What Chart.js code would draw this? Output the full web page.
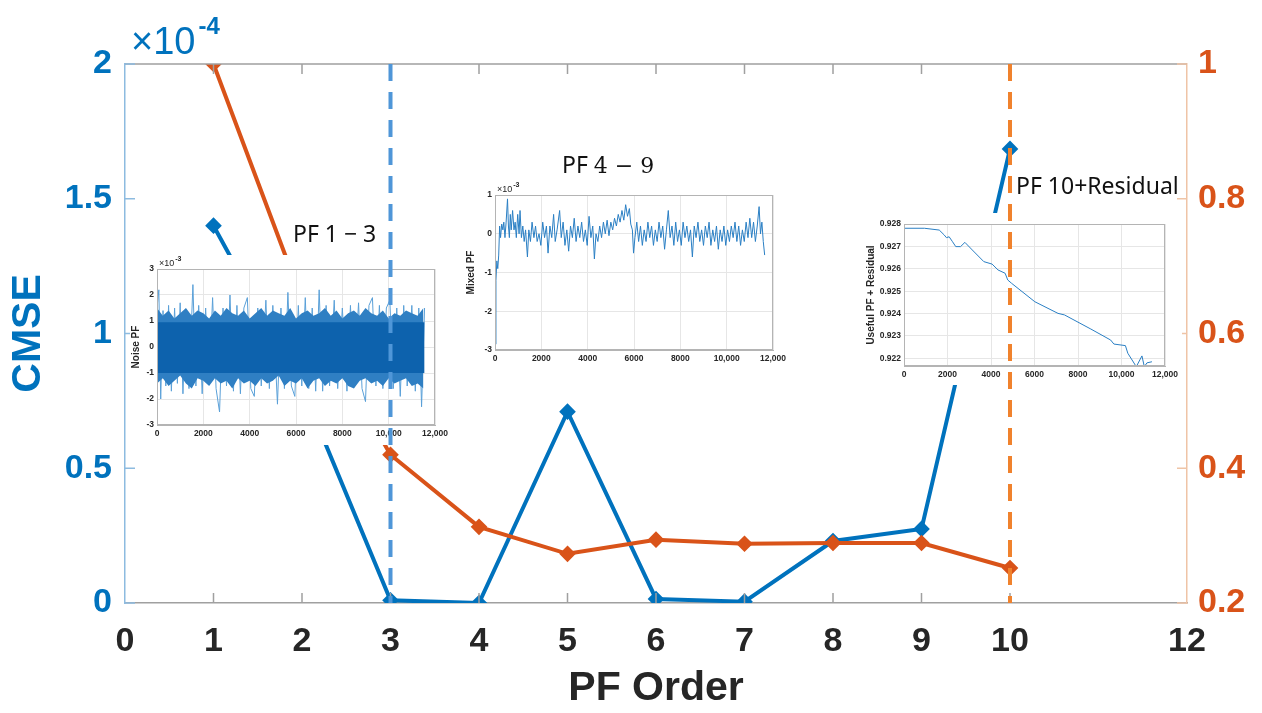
<!DOCTYPE html>
<html>
<head>
<meta charset="utf-8">
<title>CMSE vs PF order</title>
<script src="https://cdn.jsdelivr.net/npm/chart.js@4.4.1/dist/chart.umd.min.js"></script>
<style>
  html, body { margin: 0; padding: 0; background: #fff; }
  #wrap { position: relative; width: 1262px; height: 713px; overflow: hidden; }
  canvas.layer { position: absolute; left: 0; top: 0; }
  #marks { pointer-events: none; }
  .inset { position: absolute; background: #fff; }
  .inset canvas { display: block; }
  .lbl { position: absolute; font-family: 'Noto Sans', sans-serif; font-size: 23px; line-height: 23px; color: #111; white-space: nowrap; }
  .lbl .num { font-family: 'DejaVu Serif', 'Liberation Serif', serif; font-size: 22px; }
</style>
</head>
<body>
<div id="wrap">
  <canvas id="main" class="layer" width="1262" height="713"></canvas>
  <div class="inset" style="left:130px;top:255px;width:322px;height:190px"><canvas id="noise" width="322" height="190"></canvas></div>
  <div class="inset" style="left:465px;top:175px;width:325px;height:195px"><canvas id="mixed" width="325" height="195"></canvas></div>
  <div class="inset" style="left:865px;top:213px;width:317px;height:172px"><canvas id="useful" width="317" height="172"></canvas></div>
  <canvas id="marks" class="layer" width="1262" height="713"></canvas>
  <div class="lbl" style="left:293px;top:222px">PF 1 − 3</div>
  <div class="lbl" style="left:562px;top:153px">PF <span class="num">4 − 9</span></div>
  <div class="lbl" style="left:1016px;top:174px">PF 10+Residual</div>
</div>
<script>
// main chart data
const orders = [1, 2, 3, 4, 5, 6, 7, 8, 9, 10];
const cmse = [1.40, 0.80, 0.01, 0.0, 0.71, 0.015, 0.005, 0.23, 0.275, 1.685]; // x1e-4
const rightSeries = [1.0, 0.65, 0.42, 0.313, 0.273, 0.294, 0.288, 0.289, 0.289, 0.252];
const xTicks = [0, 1, 2, 3, 4, 5, 6, 7, 8, 9, 10, 12];
const cmseTicks = [0, 0.5, 1, 1.5, 2];
const rightTicks = [0.2, 0.4, 0.6, 0.8, 1];
const splitOrders = [3, 10];
const splitColors = ['#4f96d8', '#f0822d'];

// inset data (x = sample index, y in the inset's units)
const sampleTicks = [0, 2000, 4000, 6000, 8000, 10000, 12000];
const noiseBandX = [0, 250, 500, 750, 1000, 1250, 1500, 1750, 2000, 2250, 2500, 2750, 3000, 3250, 3500, 3750,
  4000, 4250, 4500, 4750, 5000, 5250, 5500, 5750, 6000, 6250, 6500, 6750, 7000, 7250, 7500, 7750,
  8000, 8250, 8500, 8750, 9000, 9250, 9500, 9750, 10000, 10250, 10500, 10750, 11000, 11250, 11500];
const noiseBandUp = [1.5, 1.2, 1.4, 1.1, 1.3, 1.5, 1.2, 1.4, 1.3, 1.1, 1.4, 1.2, 1.5, 1.3, 1.2, 1.4,
  1.1, 1.3, 1.5, 1.2, 1.4, 1.3, 1.2, 1.5, 1.1, 1.3, 1.4, 1.2, 1.3, 1.5, 1.2, 1.4,
  1.1, 1.3, 1.4, 1.2, 1.5, 1.3, 1.2, 1.4, 1.1, 1.3, 1.2, 1.4, 1.3, 1.2, 1.5];
const noiseBandLow = [-1.4, -1.2, -1.5, -1.3, -1.1, -1.4, -1.6, -1.2, -1.3, -1.5, -1.2, -1.4, -1.3, -1.6, -1.2, -1.4,
  -1.3, -1.5, -1.2, -1.4, -1.3, -1.1, -1.5, -1.3, -1.4, -1.2, -1.6, -1.3, -1.2, -1.5, -1.3, -1.4,
  -1.2, -1.5, -1.6, -1.3, -1.2, -1.4, -1.3, -1.5, -1.2, -1.4, -1.3, -1.2, -1.5, -1.4, -1.6];
const noiseCoreX = [0, 11550];
const noiseCoreUp = [0.95, 0.95];
const noiseCoreLow = [-1.0, -1.0];
const noiseSpikeX = [0, 80, 160, 260, 380, 500, 620, 760, 880, 1000, 1120, 1250, 1380, 1550, 1680, 1800, 1950, 2100, 2250, 2400,
  2550, 2700, 2850, 3000, 3150, 3300, 3450, 3600, 3750, 3900, 4050, 4200, 4350, 4500, 4700, 4850, 5000, 5200, 5350, 5500,
  5650, 5800, 5950, 6100, 6250, 6400, 6550, 6700, 6850, 7000, 7150, 7300, 7450, 7650, 7800, 8000, 8200, 8350, 8500, 8700,
  8850, 9000, 9150, 9300, 9450, 9600, 9750, 9900, 10050, 10200, 10350, 10500, 10650, 10800, 11000, 11150, 11300, 11420, 11550];
const noiseSpikeY = [1.5, 2.2, -2.0, 1.4, -1.5, 1.6, -1.7, 1.5, -1.4, 1.7, -1.8, 1.4, -1.6, 2.4, -1.5, 1.6, -1.8, 1.5, -1.4, 1.9,
  -1.6, -2.5, 1.5, -1.5, 2.0, -1.7, 1.6, -1.8, 1.5, 1.9, -1.6, -1.9, 1.5, -1.5, 1.8, -1.6, 1.6, -2.2, 1.5, -1.6,
  2.1, -1.5, -1.9, 1.6, -1.5, 1.9, -1.6, 1.5, -1.7, 2.2, -1.7, 1.6, -1.5, 1.8, -1.6, 1.5, -1.7, 1.6, -1.5, 1.7,
  -1.6, -2.1, 1.6, 1.9, -1.5, 1.6, -1.6, 1.5, 1.8, -1.6, 1.5, -1.9, 1.6, -1.5, 1.6, -1.7, 1.5, -2.3, 1.5];
const mixedX = [0, 40, 80, 120, 160, 200, 240, 290, 340, 380, 430, 480, 540, 580, 620, 660, 700, 760, 820, 870,
  920, 980, 1040, 1080, 1140, 1200, 1260, 1320, 1400, 1460, 1530, 1600, 1680, 1750, 1820, 1900, 1980, 2060, 2140, 2220,
  2290, 2370, 2450, 2530, 2600, 2680, 2790, 2860, 2940, 3020, 3100, 3180, 3260, 3340, 3420, 3500, 3580, 3660, 3740, 3820,
  3900, 3980, 4060, 4140, 4220, 4290, 4360, 4440, 4520, 4600, 4680, 4760, 4840, 4920, 5000, 5080, 5160, 5240, 5320, 5400,
  5480, 5560, 5640, 5720, 5800, 5860, 5930, 5980, 6040, 6120, 6200, 6280, 6360, 6440, 6520, 6600, 6680, 6760, 6840, 6920,
  7000, 7080, 7160, 7240, 7320, 7400, 7480, 7560, 7640, 7720, 7800, 7880, 7960, 8040, 8120, 8200, 8280, 8360, 8440, 8520,
  8600, 8680, 8760, 8840, 8920, 9000, 9080, 9160, 9240, 9320, 9400, 9480, 9560, 9640, 9720, 9800, 9880, 9960, 10040, 10120,
  10200, 10280, 10360, 10440, 10520, 10600, 10680, 10760, 10840, 10920, 11000, 11080, 11160, 11240, 11320, 11400, 11460, 11520, 11580, 11640];
const mixedY = [-2.85, -1.2, -0.7, -0.9, -0.55, 0.2, -0.1, 0.25, 0.1, 0.3, -0.1, 0.3, 0.9, 0.2, -0.1, 0.5, 0.1, 0.6, 0.1, 0.3,
  -0.1, 0.5, 0.0, 0.6, -0.1, 0.2, -0.2, 0.1, -0.6, 0.1, -0.2, 0.3, -0.1, 0.2, -0.2, 0.0, -0.3, 0.3, -0.1, 0.2,
  -0.5, 0.2, -0.1, 0.5, -0.2, 0.1, 0.6, -0.1, 0.3, -0.3, 0.1, -0.45, 0.2, -0.1, 0.4, -0.2, 0.2, -0.1, 0.3, -0.2,
  0.1, -0.3, 0.45, -0.1, 0.2, -0.65, 0.0, -0.2, 0.2, -0.1, 0.3, 0.0, 0.35, -0.05, 0.3, 0.1, 0.4, 0.2, 0.5, 0.3,
  0.6, 0.35, 0.75, 0.45, 0.65, 0.25, 0.1, -0.5, -0.1, 0.3, -0.2, 0.2, -0.3, 0.1, -0.2, 0.3, -0.1, 0.2, -0.3, 0.1,
  -0.2, 0.3, -0.1, 0.2, -0.4, 0.1, 0.6, -0.1, 0.2, -0.3, 0.3, -0.2, 0.1, -0.3, 0.3, -0.1, 0.2, -0.2, 0.1, -0.6,
  0.2, -0.1, 0.3, -0.2, 0.1, -0.3, 0.2, -0.1, 0.3, -0.3, 0.1, -0.2, 0.2, -0.4, 0.1, -0.2, 0.2, -0.3, 0.1, -0.2,
  0.2, -0.1, 0.3, -0.2, 0.2, -0.3, 0.1, -0.2, 0.3, -0.1, 0.4, -0.1, 0.3, -0.2, 0.2, 0.7, 0.0, 0.3, -0.2, -0.55];
const usefulX = [0, 940, 1620, 1850, 1950, 2075, 2230, 2380, 2600, 2800, 3140, 3670, 4050, 4320, 4650, 4770, 4950,
  6015, 7080, 7380, 8590, 9500, 9650, 10180, 10290, 10680, 10940, 11050, 11170, 11400];
const usefulY = [0.92781, 0.92781, 0.92773, 0.92751, 0.92739, 0.92743, 0.92721, 0.92699, 0.92699, 0.92718, 0.92684,
  0.92632, 0.92621, 0.92595, 0.9258, 0.9255, 0.92535, 0.92453, 0.92401, 0.92394, 0.92331, 0.92282, 0.92264,
  0.92257, 0.92223, 0.92163, 0.92211, 0.92163, 0.9218, 0.92185];

const FONT = "'Liberation Sans', Arial, sans-serif";
const BLUE = '#0072BD';
const ORANGE = '#D95319';

const pts = (xs, ys) => xs.map((x, i) => ({ x: x, y: ys[i] }));
const setTicks = list => s => { s.ticks = list.map(v => ({ value: v })); };
const fmtSample = v => v >= 10000 ? Math.floor(v / 1000) + ',' + String(v % 1000).padStart(3, '0') : String(v);

function mainScales(show) {
  const c = col => show ? col : 'transparent';
  const big = { family: FONT, size: 34, weight: 'bold' };
  return {
    x: {
      type: 'linear', min: 0, max: 12,
      afterBuildTicks: setTicks(xTicks),
      afterFit: s => { s.height = 110; },
      grid: { drawOnChartArea: false, drawTicks: false },
      border: { color: c('#a0a0a0'), width: 1.5 },
      ticks: { color: c('#262626'), font: big, padding: 18, maxRotation: 0, autoSkip: false, callback: v => String(v) },
      title: { display: true, text: 'PF Order', color: c('#262626'), font: { family: FONT, size: 41, weight: 'bold' }, padding: 0 }
    },
    y: {
      position: 'left', min: 0, max: 2,
      afterBuildTicks: setTicks(cmseTicks),
      afterFit: s => { s.width = 125; },
      grid: { drawOnChartArea: false, drawTicks: false },
      border: { color: c('#8dbbe0'), width: 1.5 },
      ticks: { color: c(BLUE), font: big, padding: 13, callback: v => String(v) },
      title: { display: true, text: 'CMSE', color: c(BLUE), font: { family: FONT, size: 41, weight: 'bold' }, padding: 4 }
    },
    y2: {
      position: 'right', min: 0.2, max: 1,
      afterBuildTicks: setTicks(rightTicks),
      afterFit: s => { s.width = 75; },
      grid: { drawOnChartArea: false, drawTicks: false },
      border: { color: c('#efc4a6'), width: 1.5 },
      ticks: { color: c(ORANGE), font: big, padding: 11, callback: v => String(v) }
    }
  };
}

// MATLAB-style box, inward ticks and exponent label
const matlabFrame = {
  id: 'matlabFrame',
  afterDraw(chart) {
    const { ctx, chartArea: a, scales } = chart;
    ctx.save();
    ctx.lineWidth = 1.5;
    ctx.strokeStyle = '#a0a0a0';
    ctx.beginPath();
    ctx.moveTo(a.left, a.top); ctx.lineTo(a.right, a.top);
    scales.x.ticks.forEach(t => {
      const px = scales.x.getPixelForValue(t.value);
      if (px <= a.left + 1 || px >= a.right - 1) return;
      ctx.moveTo(px, a.bottom); ctx.lineTo(px, a.bottom - 10);
      ctx.moveTo(px, a.top); ctx.lineTo(px, a.top + 10);
    });
    ctx.stroke();
    ctx.strokeStyle = '#8dbbe0';
    ctx.beginPath();
    scales.y.ticks.forEach(t => {
      const py = scales.y.getPixelForValue(t.value);
      ctx.moveTo(a.left, py); ctx.lineTo(a.left + 10, py);
    });
    ctx.stroke();
    ctx.strokeStyle = '#efc4a6';
    ctx.beginPath();
    scales.y2.ticks.forEach(t => {
      const py = scales.y2.getPixelForValue(t.value);
      ctx.moveTo(a.right, py); ctx.lineTo(a.right - 10, py);
    });
    ctx.stroke();
    ctx.fillStyle = BLUE;
    ctx.textBaseline = 'alphabetic';
    ctx.font = '38px ' + FONT;
    ctx.fillText('×10', a.left + 6, a.top - 10);
    const w = ctx.measureText('×10').width;
    ctx.font = 'bold 24px ' + FONT;
    ctx.fillText('-4', a.left + 9 + w, a.top - 30);
    ctx.restore();
  }
};

new Chart(document.getElementById('main'), {
  type: 'line',
  data: {
    datasets: [
      {
        label: 'PF energy ratio', data: pts(orders, rightSeries), yAxisID: 'y2',
        borderColor: ORANGE, backgroundColor: ORANGE, borderWidth: 4,
        pointStyle: 'rectRot', pointRadius: 5.5, tension: 0, order: 1
      },
      {
        label: 'CMSE', data: pts(orders, cmse), yAxisID: 'y',
        borderColor: BLUE, backgroundColor: BLUE, borderWidth: 4,
        pointStyle: 'rectRot', pointRadius: 5.5, tension: 0, order: 2
      }
    ]
  },
  options: {
    responsive: false, animation: false,
    layout: { padding: { top: 64, left: 0, right: 0, bottom: 0 } },
    plugins: { legend: { display: false }, tooltip: { enabled: false } },
    scales: mainScales(true)
  },
  plugins: [matlabFrame]
});

// dashed split lines, drawn on top of the insets with the same axes
new Chart(document.getElementById('marks'), {
  type: 'line',
  data: {
    datasets: splitOrders.map((o, i) => ({
      data: [{ x: o, y: 2 }, { x: o, y: 0 }], yAxisID: 'y',
      borderColor: splitColors[i], borderWidth: 4, borderDash: [17, 11],
      pointRadius: 0, tension: 0
    }))
  },
  options: {
    responsive: false, animation: false, events: [],
    layout: { padding: { top: 64, left: 0, right: 0, bottom: 0 } },
    plugins: { legend: { display: false }, tooltip: { enabled: false } },
    scales: mainScales(false)
  }
});

// small inset charts
const insetFrame = {
  id: 'insetFrame',
  afterDraw(chart, args, opts) {
    const { ctx, chartArea: a } = chart;
    ctx.save();
    ctx.strokeStyle = '#b4b4b4';
    ctx.lineWidth = 1;
    ctx.strokeRect(a.left + 0.5, a.top + 0.5, a.right - a.left - 1, a.bottom - a.top - 1);
    if (opts.exp) {
      ctx.fillStyle = '#262626';
      ctx.font = '9px ' + FONT;
      ctx.fillText('×10', a.left + 2, a.top - 3);
      const w = ctx.measureText('×10').width;
      ctx.font = 'bold 7px ' + FONT;
      ctx.fillText(opts.exp, a.left + 3 + w, a.top - 8);
    }
    ctx.restore();
  }
};

function makeInset(id, datasets, o) {
  const small = { family: FONT, size: 8.5, weight: 'bold' };
  new Chart(document.getElementById(id), {
    type: 'line',
    data: { datasets: datasets },
    options: {
      responsive: false, animation: false, events: [],
      layout: { padding: { top: o.top, right: o.right, left: 0, bottom: 0 } },
      plugins: { legend: { display: false }, tooltip: { enabled: false }, insetFrame: { exp: o.exp } },
      scales: {
        x: {
          type: 'linear', min: 0, max: 12000,
          afterBuildTicks: setTicks(sampleTicks),
          afterFit: s => { s.height = o.bottom; },
          grid: { color: '#e6e6e6', drawTicks: false },
          border: { color: '#b4b4b4' },
          ticks: { color: '#262626', font: small, padding: 4, maxRotation: 0, autoSkip: false, callback: fmtSample }
        },
        y: {
          min: o.min, max: o.max,
          afterBuildTicks: setTicks(o.ticks),
          afterFit: s => { s.width = o.left; },
          grid: { color: '#e6e6e6', drawTicks: false },
          border: { color: '#b4b4b4' },
          ticks: { color: '#262626', font: small, padding: 3, callback: o.fmt },
          title: { display: true, text: o.title, color: '#262626', font: { family: FONT, size: 10, weight: 'bold' }, padding: 0 }
        }
      }
    },
    plugins: [insetFrame]
  });
}

const lineDs = (data, color, width) => ({ data: data, borderColor: color, borderWidth: width, pointRadius: 0, tension: 0 });

makeInset('noise', [
  Object.assign(lineDs(pts(noiseCoreX, noiseCoreUp), '#0d62ad', 0), { fill: '+1', backgroundColor: '#0d62ad', order: 1 }),
  Object.assign(lineDs(pts(noiseCoreX, noiseCoreLow), '#0d62ad', 0), { order: 1 }),
  Object.assign(lineDs(pts(noiseBandX, noiseBandUp), '#2f7fc3', 0), { fill: '+1', backgroundColor: '#2f7fc3', order: 2 }),
  Object.assign(lineDs(pts(noiseBandX, noiseBandLow), '#2f7fc3', 0), { order: 2 }),
  Object.assign(lineDs(pts(noiseSpikeX, noiseSpikeY), '#5aa0d8', 1), { order: 3 })
], { left: 27, right: 9, top: 14, bottom: 20, min: -3, max: 3, ticks: [-3, -2, -1, 0, 1, 2, 3],
     fmt: v => String(v), title: 'Noise PF', exp: '-3' });

makeInset('mixed', [lineDs(pts(mixedX, mixedY), '#2a7fc4', 1)],
  { left: 30, right: 15, top: 20, bottom: 20, min: -3, max: 1, ticks: [-3, -2, -1, 0, 1],
    fmt: v => String(v), title: 'Mixed PF', exp: '-3' });

makeInset('useful', [lineDs(pts(usefulX, usefulY), '#2a7fc4', 1)],
  { left: 39, right: 15, top: 11, bottom: 19, min: 0.92166, max: 0.928,
    ticks: [0.922, 0.923, 0.924, 0.925, 0.926, 0.927, 0.928],
    fmt: v => v.toFixed(3), title: 'Useful PF + Residual' });
</script>
</body>
</html>
